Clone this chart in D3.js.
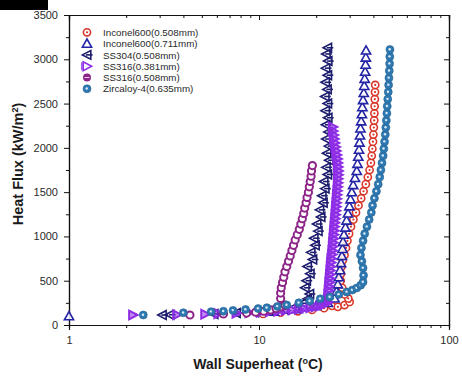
<!DOCTYPE html>
<html>
<head>
<meta charset="utf-8">
<script src="https://cdn.jsdelivr.net/npm/d3@7"></script>
<style>
  html, body { margin: 0; padding: 0; background: #fff; }
  svg { display: block; font-family: "Liberation Sans", Arial, sans-serif; }
</style>
</head>
<body>
<svg id="chart" width="462" height="379"></svg>
<script>
// Pool boiling curves: heat flux vs wall superheat, [superheat (°C), heat flux (kW/m²)]
const inconel508 = [
  [10.5,125],[13,140],[16,155],[19,170],[22,190],[24.2,215],[26,205],[28.2,225],[30,260],[29.5,300],
  [28.2,345],[27.4,420],[26.9,500],[27.0,580],[27.2,660],[27.6,730],[28.2,790],[28.7,870],[29.2,950],
  [29.8,1030],[30.5,1110],[31.4,1190],[32.4,1270],[33.4,1350],[34.5,1430],[35.5,1510],[36.5,1590],
  [37.4,1670],[38.2,1750],[38.8,1830],[39.2,1910],[39.5,1990],[39.8,2070],[40.0,2150],[40.2,2230],
  [40.4,2310],[40.5,2390],[40.6,2470],[40.7,2550],[40.8,2630],[40.9,2710]
];
const inconel711 = [
  [1.0,100],[12,150],[16,180],[20,215],[23,250],[25.0,300],[25.6,380],[26.0,460],[26.3,540],[26.7,620],
  [27.0,700],[27.3,780],[27.5,860],[27.7,940],[28.0,1020],[28.5,1100],[28.9,1180],[29.4,1260],
  [29.9,1340],[30.3,1420],[30.8,1500],[31.3,1580],[32.0,1660],[32.7,1740],[33.0,1820],[33.3,1900],
  [33.6,1980],[33.8,2060],[34.0,2140],[34.2,2220],[34.5,2300],[34.8,2380],[35.0,2460],[35.3,2540],
  [35.6,2620],[35.8,2700],[36.0,2780],[36.2,2860],[36.4,2940],[36.5,3020],[36.6,3100]
];
const ss304 = [
  [3.1,112],[3.4,116],[5.8,125],[7.6,135],[9.5,145],[11.5,160],[13.5,178],[15.5,205],[17.0,245],
  [18.0,295],[18.5,350],[17.5,420],[17.8,500],[18.6,580],[18.0,660],[19.2,740],[18.8,820],[19.8,900],
  [19.5,980],[20.5,1060],[20.2,1140],[21.2,1220],[20.9,1300],[21.8,1380],[21.5,1460],[22.3,1540],
  [22.0,1620],[23.0,1700],[22.6,1780],[23.4,1860],[22.8,1940],[23.3,2020],[22.6,2100],[23.2,2180],
  [22.5,2260],[23.1,2340],[22.4,2420],[23.0,2500],[22.3,2580],[22.9,2660],[22.4,2740],[23.0,2820],
  [22.5,2900],[23.1,2980],[22.6,3060],[23.0,3130]
];
const ss316thin = [
  [2.17,113],[3.7,115],[5.2,122],[6.1,128],[7.6,133],[8.9,140],[10.2,145],[11.4,150],[12.6,157],
  [13.8,163],[15.0,170],[16.2,178],[17.4,186],[18.6,195],[19.8,205],[21.0,215],[22.0,230],[22.6,245],
  [22.8,260],[23.0,300],[23.1,345],[23.2,390],[23.3,435],[23.4,480],[23.5,525],[23.6,570],[23.7,615],
  [23.8,660],[23.9,705],[24.0,750],[24.2,795],[24.3,840],[24.4,885],[24.5,930],[24.6,975],[24.7,1020],
  [24.8,1065],[24.9,1110],[25.0,1155],[25.1,1200],[25.2,1245],[25.3,1290],[25.4,1335],[25.5,1380],
  [25.6,1425],[25.7,1470],[25.8,1515],[25.9,1560],[26.0,1605],[26.0,1650],[26.1,1695],[26.1,1740],
  [26.0,1785],[25.9,1830],[25.8,1875],[25.6,1920],[25.4,1965],[25.2,2010],[25.0,2055],[24.8,2100],
  [24.7,2145],[24.5,2190],[24.4,2236]
];
const ss316thick = [
  [4.33,113],[6.5,125],[8.6,135],[9.6,145],[10.6,155],[11.5,170],[12.3,185],[13.0,205],[13.7,226],
  [13.0,300],[13.0,360],[13.1,420],[13.3,480],[13.5,540],[13.7,600],[14.0,660],[14.3,720],[14.6,780],
  [14.9,840],[15.2,900],[15.5,960],[15.9,1020],[16.3,1080],[16.6,1140],[16.9,1200],[17.2,1260],
  [17.4,1320],[17.7,1380],[17.9,1440],[18.2,1500],[18.4,1560],[18.6,1620],[18.8,1680],[18.9,1740],
  [19.1,1800]
];
const zircaloy = [
  [2.46,113],[4.0,138],[5.6,150],[6.5,155],[7.3,165],[8.5,175],[9.9,185],[11.0,195],[12.5,210],
  [14.0,226],[16.2,250],[18.5,271],[21,295],[23.6,316],[26.3,345],[29,373],[31,395],[32.7,418],
  [34.3,450],[35.3,485],[35.5,560],[35.3,644],[34.8,720],[34.2,790],[34.6,870],[35.3,950],[36.0,1030],
  [37.0,1110],[38.0,1190],[39.0,1270],[39.6,1350],[40.5,1430],[41.5,1510],[42.4,1590],[43.2,1670],
  [43.8,1750],[44.4,1830],[45.0,1910],[45.4,1990],[45.8,2070],[46.2,2150],[46.5,2230],[46.8,2310],
  [47.1,2390],[47.3,2470],[47.6,2550],[47.9,2630],[48.1,2710],[48.3,2790],[48.5,2870],[48.7,2950],
  [48.8,3030],[48.9,3110]
];

const seriesNames = [
  "Inconel600(0.508mm)", "Inconel600(0.711mm)", "SS304(0.508mm)",
  "SS316(0.381mm)", "SS316(0.508mm)", "Zircaloy-4(0.635mm)"
];
const yTicks = [0, 500, 1000, 1500, 2000, 2500, 3000, 3500];
const xTicks = [1, 10, 100];
const yMinor = [250, 750, 1250, 1750, 2250, 2750, 3250];
const xMinor = [2, 3, 4, 5, 6, 7, 8, 9, 20, 30, 40, 50, 60, 70, 80, 90];

const series = [
  { name: seriesNames[0], data: inconel508, shape: "ringdot",  color: "#d9362a" },
  { name: seriesNames[1], data: inconel711, shape: "triUp",    color: "#2323a6" },
  { name: seriesNames[2], data: ss304,      shape: "triLeft",  color: "#1c1c6e" },
  { name: seriesNames[3], data: ss316thin,  shape: "triRight", color: "#8e2de6" },
  { name: seriesNames[4], data: ss316thick, shape: "ring",     color: "#8d2488" },
  { name: seriesNames[5], data: zircaloy,   shape: "dot",      color: "#2f79b3" }
];

const svg = d3.select("#chart");
const x = d3.scaleLog().domain([1, 100]).range([69, 449]);
const y = d3.scaleLinear().domain([0, 3500]).range([325, 15]);

// marker painter
function drawMarker(g, shape, color, legend) {
  const sw = 1.6;
  if (shape === "ringdot") {
    g.append("circle").attr("r", 3.6).attr("fill", "#fff").attr("stroke", color).attr("stroke-width", sw);
    g.append("circle").attr("r", 1.1).attr("fill", color);
  } else if (shape === "ring") {
    if (legend) {
      g.append("circle").attr("r", 4).attr("fill", color);
      g.append("line").attr("x1", -2.5).attr("x2", 2.5).attr("stroke", "#f3d8f0").attr("stroke-width", 1);
    } else {
      g.append("circle").attr("r", 3.6).attr("fill", "#fff").attr("stroke", color).attr("stroke-width", 2);
    }
  } else if (shape === "dot") {
    g.append("circle").attr("r", 4).attr("fill", color).attr("stroke", "#23628f").attr("stroke-width", 0.6);
    g.append("circle").attr("r", 1.2).attr("cx", -0.3).attr("cy", -0.3).attr("fill", "#dcecf7");
  } else if (shape === "triUp") {
    g.append("path").attr("d", "M0,-4.6L4.6,3.6L-4.6,3.6Z")
      .attr("fill", "#fff").attr("fill-opacity", legend ? 1 : 0.85).attr("stroke", color).attr("stroke-width", sw);
  } else if (shape === "triLeft") {
    g.append("path").attr("d", "M-4.6,0L3.8,-4.4L3.8,4.4Z")
      .attr("fill", "none").attr("stroke", color).attr("stroke-width", sw);
    g.append("line").attr("x1", -1).attr("x2", 5.6).attr("stroke", color).attr("stroke-width", sw);
  } else if (shape === "triRight") {
    g.append("path").attr("d", "M4.6,0L-3.8,-4.4L-3.8,4.4Z")
      .attr("fill", legend ? "none" : color).attr("fill-opacity", 0.55)
      .attr("stroke", color).attr("stroke-width", legend ? sw : 2);
    if (legend) g.append("line").attr("x1", -5.2).attr("x2", -5.2).attr("y1", -4).attr("y2", 4)
      .attr("stroke", color).attr("stroke-width", 1.2);
  }
}

// axes
const axisColor = "#111";
svg.append("g").attr("transform", "translate(69,0)")
  .call(d3.axisLeft(y).tickValues(yTicks).tickSize(5).tickPadding(6).tickFormat(d3.format("d")));
svg.append("g").attr("transform", "translate(69,0)")
  .call(d3.axisLeft(y).tickValues(yMinor).tickSize(3).tickFormat(""));
svg.append("g").attr("transform", "translate(0,325)")
  .call(d3.axisBottom(x).tickValues(xTicks).tickSize(5).tickPadding(6).tickFormat(d3.format("d")));
svg.append("g").attr("transform", "translate(0,325)")
  .call(d3.axisBottom(x).tickValues(xMinor).tickSize(3).tickFormat(""));
svg.append("g").attr("transform", "translate(0,15)")
  .call(d3.axisTop(x).tickValues(xTicks).tickSize(-5).tickFormat(""));
svg.append("g").attr("transform", "translate(0,15)")
  .call(d3.axisTop(x).tickValues(xMinor).tickSize(-3).tickFormat(""));
svg.append("g").attr("transform", "translate(449,0)")
  .call(d3.axisRight(y).tickValues(yTicks).tickSize(-5).tickFormat(""));
svg.append("g").attr("transform", "translate(449,0)")
  .call(d3.axisRight(y).tickValues(yMinor).tickSize(-3).tickFormat(""));

svg.selectAll(".domain").attr("stroke", axisColor).attr("stroke-width", 1.2);
svg.selectAll(".tick line").attr("stroke", axisColor).attr("stroke-width", 1);
svg.selectAll(".tick text").attr("font-size", 11).attr("fill", "#2a2a2a")
  .attr("font-family", "'Liberation Sans', Arial, sans-serif");

// data points
const plot = svg.append("g");
series.forEach(s => {
  s.data.forEach(d => {
    const g = plot.append("g").attr("transform", `translate(${x(d[0])},${y(d[1])})`);
    drawMarker(g, s.shape, s.color, false);
  });
});

// legend
const legend = svg.append("g");
series.forEach((s, i) => {
  const ly = 32.3 + i * 11.3;
  const g = legend.append("g").attr("transform", `translate(87,${ly})`);
  drawMarker(g, s.shape, s.color, true);
  legend.append("text").attr("x", 103).attr("y", ly + 3.6)
    .attr("font-size", 9.8).attr("fill", "#2a2a2a").text(s.name);
});

// axis titles
const xt = svg.append("text").attr("x", 258).attr("y", 369).attr("text-anchor", "middle")
  .attr("font-size", 14).attr("font-weight", "bold").attr("fill", "#1a1a1a");
xt.append("tspan").text("Wall Superheat (");
xt.append("tspan").attr("font-size", 9).attr("dy", -5).text("o");
xt.append("tspan").attr("dy", 5).text("C)");

const yt = svg.append("text").attr("transform", "translate(23,164) rotate(-90)")
  .attr("text-anchor", "middle").attr("font-size", 14.5).attr("font-weight", "bold").attr("fill", "#1a1a1a");
yt.append("tspan").text("Heat Flux (kW/m");
yt.append("tspan").attr("font-size", 9).attr("dy", -5).text("2");
yt.append("tspan").attr("dy", 5).text(")");

// corner block
svg.append("rect").attr("x", 0).attr("y", 0).attr("width", 48).attr("height", 10).attr("fill", "#000");
</script>
</body>
</html>
